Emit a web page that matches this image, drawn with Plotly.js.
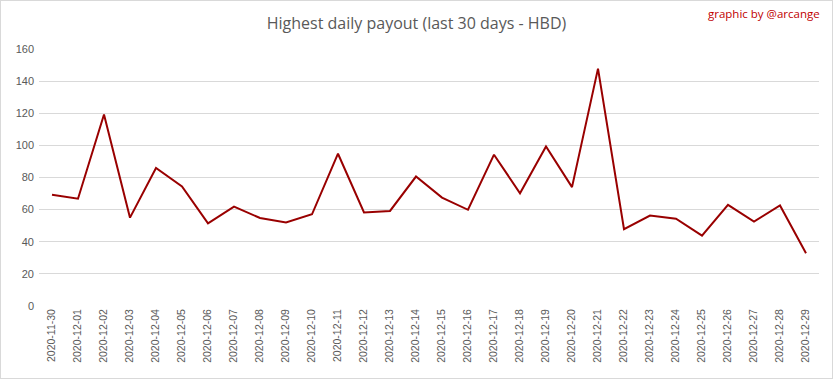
<!DOCTYPE html>
<html>
<head>
<meta charset="utf-8">
<script src="https://cdn.plot.ly/plotly-3.0.1.min.js"></script>
<style>
html,body{margin:0;padding:0;background:#fff;}
#chart{width:831px;height:377px;border:1px solid #d9d9d9;}
</style>
</head>
<body>
<div id="chart"></div>
<script>
var dates = ["2020-11-30","2020-12-01","2020-12-02","2020-12-03","2020-12-04","2020-12-05","2020-12-06","2020-12-07","2020-12-08","2020-12-09","2020-12-10","2020-12-11","2020-12-12","2020-12-13","2020-12-14","2020-12-15","2020-12-16","2020-12-17","2020-12-18","2020-12-19","2020-12-20","2020-12-21","2020-12-22","2020-12-23","2020-12-24","2020-12-25","2020-12-26","2020-12-27","2020-12-28","2020-12-29"];
var payout = [69.3, 66.8, 119.2, 55.0, 85.9, 74.4, 51.5, 61.9, 54.8, 52.0, 57.1, 94.8, 58.2, 59.2, 80.6, 67.5, 59.9, 94.2, 70.2, 99.3, 74.0, 147.8, 47.8, 56.3, 54.3, 43.8, 63.0, 52.6, 62.6, 32.8];
var yTicks = [0,20,40,60,80,100,120,140,160];

var trace = {
  x: dates, y: payout, type: 'scatter', mode: 'lines',
  line: {color: '#990000', width: 2},
  hoverinfo: 'x+y'
};
var layout = {
  width: 831, height: 377,
  margin: {l: 38, r: 13, t: 48, b: 72},
  paper_bgcolor: '#ffffff', plot_bgcolor: '#ffffff',
  showlegend: false,
  title: {text: 'Highest daily payout (last 30 days - HBD)', x: 0.5, xanchor: 'center', y: 0.94, yanchor: 'middle',
          font: {family: 'Open Sans, sans-serif', size: 16, color: '#595959'}},
  xaxis: {type: 'category', range: [-0.5, 29.5], tickangle: -90, showgrid: false, zeroline: false,
          showline: false, ticks: '', tickfont: {family: 'Liberation Sans, sans-serif', size: 10.5, color: '#595959'}},
  yaxis: {range: [0, 160], tickvals: yTicks, ticktext: yTicks.map(String), showgrid: true, gridcolor: '#d9d9d9',
          zeroline: false, showline: false, ticks: '', ticklabelstandoff: 4,
          tickfont: {family: 'Liberation Sans, sans-serif', size: 11, color: '#595959'}},
  annotations: [{text: 'graphic by @arcange', xref: 'paper', yref: 'paper', x: 1.004, y: 1.137, xanchor: 'right', yanchor: 'middle',
                 showarrow: false, font: {family: 'Open Sans, sans-serif', size: 11.5, color: '#c00000'}}]
};
Plotly.newPlot('chart', [trace], layout, {displayModeBar: false, staticPlot: true});
</script>
</body>
</html>
